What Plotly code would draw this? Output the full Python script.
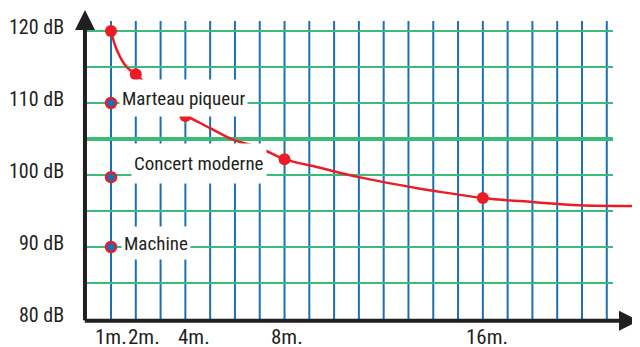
import plotly.graph_objects as go

# -- data ----------------------------------------------------------------------
dist_m = [1, 1.23, 1.63, 2, 3.79, 4, 5.0, 5.93, 7.0, 8, 9.43, 11, 13.47, 14, 16, 18.0, 19.9, 22.06]
level_db = [120, 117.4, 115.0, 114, 108.3, 108.2, 106.5, 104.9, 103.75, 102.2, 101.0, 99.7, 98.1, 97.8,
            96.8, 96.25, 95.8, 95.7]

point_m = [1, 2, 4, 8, 16]
point_db = [120, 114, 108.2, 102.2, 96.8]

source_names = ["Marteau piqueur", "Concert moderne", "Machine"]
source_db = [110, 99.7, 90]

y_ticks = [80, 90, 100, 110, 120]
x_ticks = [1, 2, 4, 8, 16]
x_labels = ["1m.", "2m.", "4m.", "8m.", "16m."]

grid_m = list(range(1, 22))
grid_db = [85, 90, 95, 100, 105, 110, 115, 120]

# -- styles ---------------------------------------------------------------------
RED = "#ec1c24"
BLUE = "#1b6fb5"
GREEN = "#3dba7a"
INK = "#231f20"
FONT = "Roboto Condensed, Liberation Sans, sans-serif"

fig = go.Figure()

# vertical (blue) and horizontal (green) grid
for m in grid_m:
    fig.add_shape(type="line", x0=m, x1=m, y0=79.8, y1=121.4, layer="below",
                  line=dict(color=BLUE, width=2))
for d in grid_db:
    fig.add_shape(type="line", x0=-0.05, x1=21.25, y0=d, y1=d, layer="below",
                  line=dict(color=GREEN, width=4 if d == 105 else 2))

# attenuation curve
fig.add_trace(go.Scatter(x=dist_m, y=level_db, mode="lines", line=dict(color=RED, width=2.5, shape="spline"),
                         hoverinfo="skip", showlegend=False))
fig.add_trace(go.Scatter(x=point_m, y=point_db, mode="markers", marker=dict(color=RED, size=12),
                         showlegend=False))

# sound sources
fig.add_trace(go.Scatter(x=[1] * len(source_db), y=source_db, mode="markers",
                         marker=dict(color=BLUE, size=10, line=dict(color=RED, width=2.5)),
                         showlegend=False))

# white label boxes hide the grid and the curve behind them
label_shift = [(8, 5, 32), (20, 13.5, 35), (10, 4, 28)]
for name, d, (dx, dy, h) in zip(source_names, source_db, label_shift):
    fig.add_annotation(x=1, y=d, text=name, showarrow=False, xanchor="left", yanchor="middle",
                       xshift=dx, yshift=dy, height=h, borderpad=2, bgcolor="white",
                       font=dict(family=FONT, size=19, color=INK))

# axes with arrows
fig.add_annotation(x=-0.05, y=122.9, ax=-0.05, ay=79.6, axref="x", ayref="y", text="",
                   showarrow=True, arrowhead=2, arrowsize=1, arrowwidth=4, arrowcolor=INK)
fig.add_annotation(x=22.3, y=79.75, ax=-0.12, ay=79.75, axref="x", ayref="y", text="",
                   showarrow=True, arrowhead=2, arrowsize=1, arrowwidth=4, arrowcolor=INK)

for v in y_ticks:
    fig.add_annotation(x=-0.05, y=v, text=f"{v} dB", showarrow=False, xanchor="right", yanchor="middle",
                       xshift=-19, yshift=4, font=dict(family=FONT, size=20, color=INK))

x_shift = [0, 8, 9, 2, 4]
for v, t, dx in zip(x_ticks, x_labels, x_shift):
    fig.add_annotation(x=v, y=80, text=t, showarrow=False, xanchor="center", yanchor="middle",
                       xshift=dx, yshift=-18, font=dict(family=FONT, size=21, color=INK))

# the page body adds an 8px margin, so the figure is 8px smaller than the window
fig.update_layout(
    width=632, height=339,
    margin=dict(l=0, r=0, t=0, b=0),
    plot_bgcolor="white", paper_bgcolor="white",
    xaxis=dict(range=[-3.155, 22.34], visible=False),
    yaxis=dict(range=[76.11, 123.19], visible=False),
)
fig.write_html("out.html")
